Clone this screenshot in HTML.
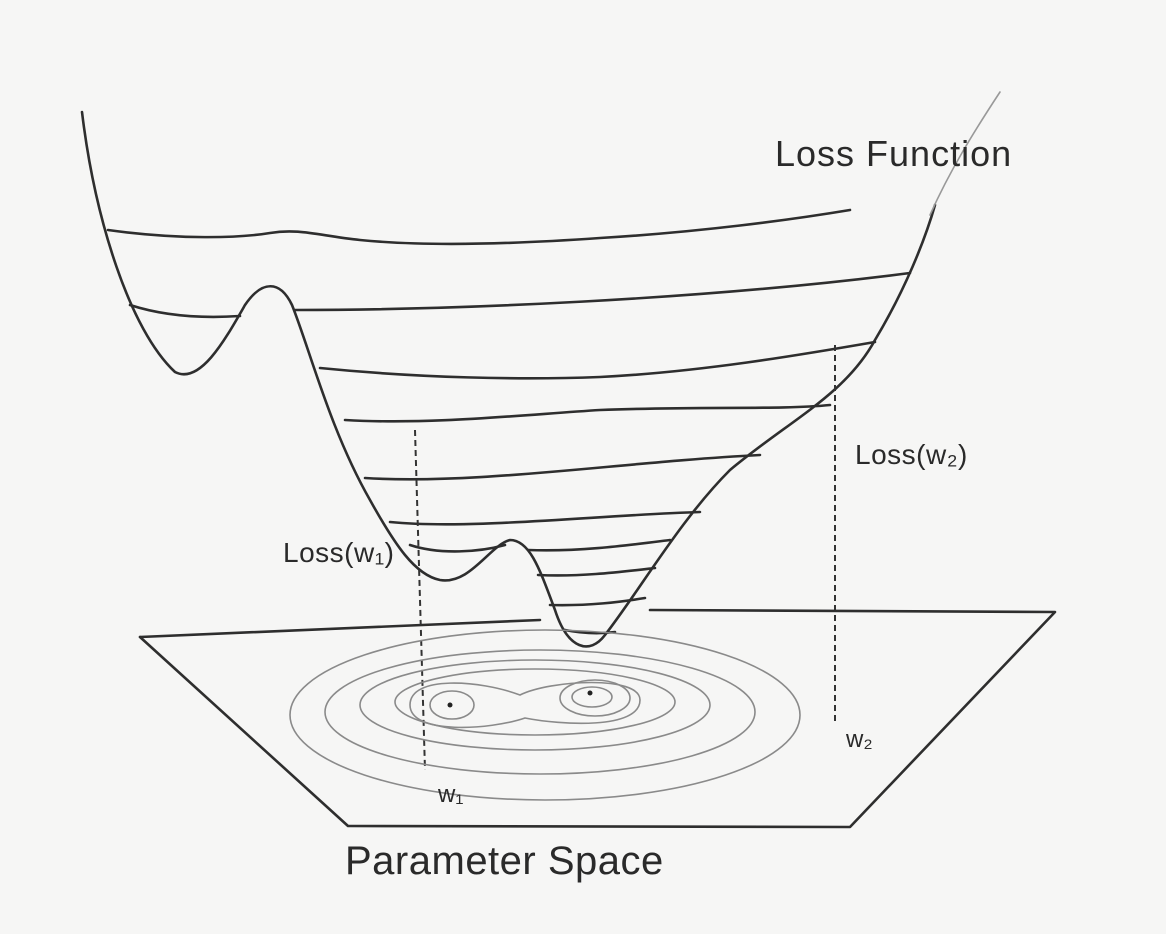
<!DOCTYPE html>
<html><head><meta charset="utf-8"><style>
html,body{margin:0;padding:0;background:#f6f6f5;}
svg{display:block;}
text{font-family:"Liberation Sans",sans-serif;fill:#2a2a2a;}
</style></head><body>
<svg width="1166" height="934" viewBox="0 0 1166 934">
<rect width="1166" height="934" fill="#f6f6f5"/>
<g fill="none" stroke="#2e2e2e" stroke-width="2.6" stroke-linecap="round" stroke-linejoin="round">
<path d="M82,112 C95,220 130,330 175,372 C200,385 225,340 245,305 C262,280 280,280 292,305 C310,350 330,430 370,500 C395,545 415,575 440,580 C470,585 490,545 510,540 C530,540 540,570 555,610 C568,650 590,655 605,635 C640,590 680,520 730,470 C790,420 845,395 875,340 C905,290 925,240 935,205"/>
<path stroke-width="1.6" stroke="#999" d="M1000,92 C975,130 950,170 930,215"/>
<path d="M108,230 C180,240 240,238 270,233 C300,228 320,236 360,240 C420,246 500,245 600,238 C700,232 790,220 850,210"/>
<path d="M130,305 C170,318 210,318 240,316"/>
<path d="M295,310 C450,310 700,300 910,273"/>
<path d="M320,368 C420,378 520,380 600,377 C700,372 800,355 875,342"/>
<path d="M345,420 C430,425 520,415 600,410 C700,406 780,410 830,405"/>
<path d="M365,478 C480,485 620,462 760,455"/>
<path d="M390,522 C470,530 600,515 700,512"/>
<path d="M410,545 C440,555 480,552 505,545"/>
<path d="M528,550 C580,552 630,545 670,540"/>
<path d="M538,575 C580,577 620,572 655,568"/>
<path d="M550,605 C590,606 620,602 645,598"/>
<path d="M565,630 C585,634 600,634 615,632"/>
</g>
<g stroke="#333" stroke-width="2" stroke-dasharray="6,4">
<line x1="415" y1="430" x2="425" y2="770"/>
<line x1="835" y1="345" x2="835" y2="725"/>
</g>
<g fill="none" stroke="#2e2e2e" stroke-width="2.6" stroke-linejoin="round" stroke-linecap="round">
<path d="M140,637 L540,620"/>
<path d="M650,610 L1055,612 L850,827 L348,826 L140,637"/>
</g>
<g fill="none" stroke="#8a8a8a" stroke-width="1.6">
<ellipse cx="545" cy="715" rx="255" ry="85"/>
<ellipse cx="540" cy="712" rx="215" ry="62"/>
<ellipse cx="535" cy="705" rx="175" ry="45"/>
<ellipse cx="535" cy="702" rx="140" ry="33"/>
<path d="M410,705 C410,675 480,680 520,695 C550,680 640,675 640,700 C640,730 560,725 525,718 C490,730 410,735 410,705 Z"/>
<ellipse cx="452" cy="705" rx="22" ry="14"/>
<ellipse cx="595" cy="698" rx="35" ry="18"/>
<ellipse cx="592" cy="697" rx="20" ry="10"/>
</g>
<circle cx="450" cy="705" r="2.5" fill="#222"/>
<circle cx="590" cy="693" r="2.5" fill="#222"/>
<text x="775" y="166" font-size="36" letter-spacing="1">Loss Function</text>
<text x="855" y="464" font-size="28" letter-spacing="0.5">Loss(w₂)</text>
<text x="283" y="562" font-size="28" letter-spacing="0.5">Loss(w₁)</text>
<text x="846" y="747" font-size="24">w₂</text>
<text x="438" y="802" font-size="24">w₁</text>
<text x="345" y="874" font-size="40" letter-spacing="0.5">Parameter Space</text>
</svg>
</body></html>
